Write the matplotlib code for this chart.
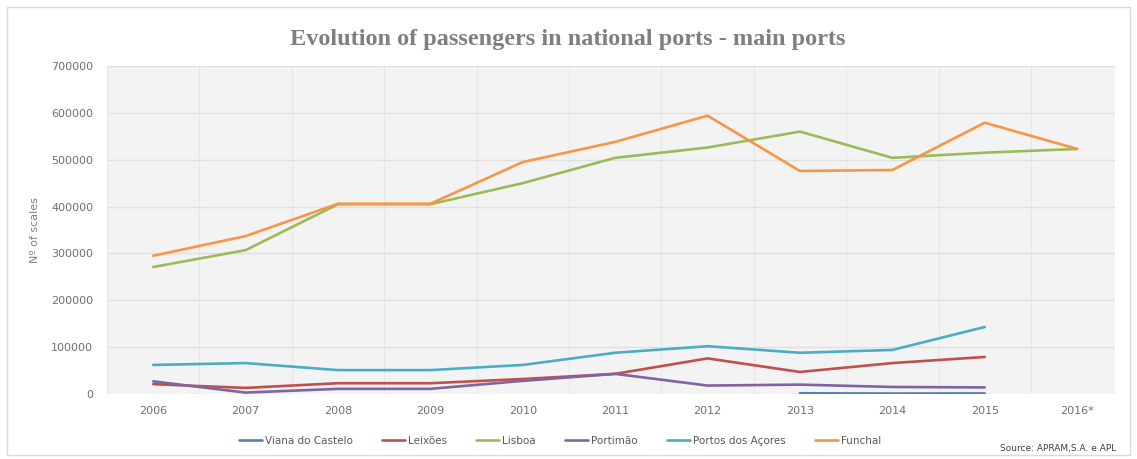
import numpy as np
import matplotlib
matplotlib.use("Agg")
import matplotlib.pyplot as plt
from matplotlib.patches import Rectangle

years = ["2006", "2007", "2008", "2009", "2010", "2011", "2012", "2013", "2014", "2015", "2016*"]

nan = np.nan
viana_do_castelo = [nan, nan, nan, nan, nan, nan, nan, 1500, 1000, 1200, nan]
leixoes = [21000, 13000, 23000, 23000, 32000, 43000, 76000, 47000, 66000, 79000, nan]
lisboa = [271000, 307000, 405000, 405000, 450000, 504000, 526000, 560000, 504000, 515000, 523000]
portimao = [27000, 3000, 11000, 11000, 28000, 43000, 18000, 20000, 15000, 14000, nan]
portos_acores = [62000, 66000, 51000, 51000, 62000, 88000, 102000, 88000, 94000, 143000, nan]
funchal = [295000, 337000, 406000, 406000, 495000, 538000, 594000, 476000, 478000, 579000, 523000]

series = [
    ("Viana do Castelo", viana_do_castelo, "#4f81bd"),
    ("Leixões", leixoes, "#c0504d"),
    ("Lisboa", lisboa, "#9bbb59"),
    ("Portimão", portimao, "#8064a2"),
    ("Portos dos Açores", portos_acores, "#4bacc6"),
    ("Funchal", funchal, "#f79646"),
]

W, H = 1137, 459
fig = plt.figure(figsize=(W / 100, H / 100), dpi=100)
fig.patch.set_facecolor("white")

# light outer frame
fig.add_artist(Rectangle((7 / W, 4 / H), 1123 / W, 448 / H, transform=fig.transFigure,
                         fill=False, edgecolor="#d9d9d9", linewidth=1.0))

ax = fig.add_axes([107 / W, 1 - 394 / H, (1115 - 107) / W, (394 - 66) / H])
ax.set_facecolor("#f3f3f3")

x = np.arange(len(years))
for name, vals, col in series:
    ax.plot(x, vals, color=col, lw=1.9, label=name, solid_capstyle="round", zorder=3)

ax.set_xlim(-0.498, 10.41)
ax.set_ylim(0, 700000)
ax.set_xticks(x)
ax.set_xticklabels(years)
ax.set_xticks(np.arange(-0.5, 10.5, 0.5), minor=True)
ax.set_yticks(np.arange(0, 700001, 100000))
ax.set_yticklabels([str(v) for v in range(0, 700001, 100000)])

ax.grid(axis="x", which="minor", color="#e6e6e6", lw=0.8, zorder=0)
ax.grid(axis="y", which="major", color="#e0e0e0", lw=1.0, zorder=0)
ax.set_axisbelow(True)

for s in ax.spines.values():
    s.set_visible(False)
ax.tick_params(axis="both", which="both", length=0, colors="#6f6f6f", labelsize=8)
ax.tick_params(axis="x", pad=9)
ax.tick_params(axis="y", pad=10)

ax.set_ylabel("Nº of scales", color="#808080", fontsize=8, labelpad=8)

fig.text(568 / W, 1 - 40 / H, "Evolution of passengers in national ports - main ports",
         ha="center", va="center", fontsize=17.5, fontweight="bold", color="#7f7f7f",
         family=["Liberation Serif", "DejaVu Serif"])

handles, labels = ax.get_legend_handles_labels()
fig.legend(handles, labels, loc="center", bbox_to_anchor=(560 / W, 1 - 441 / H), ncol=6,
           frameon=False, fontsize=7.5, handlelength=2.2, handletextpad=0.3, columnspacing=2.8,
           labelcolor="#595959")

fig.text(1116 / W, 1 - 449 / H, "Source: APRAM,S.A. e APL", ha="right", va="center",
         fontsize=6.5, color="#404040")

fig.savefig("out.png", dpi=100)
